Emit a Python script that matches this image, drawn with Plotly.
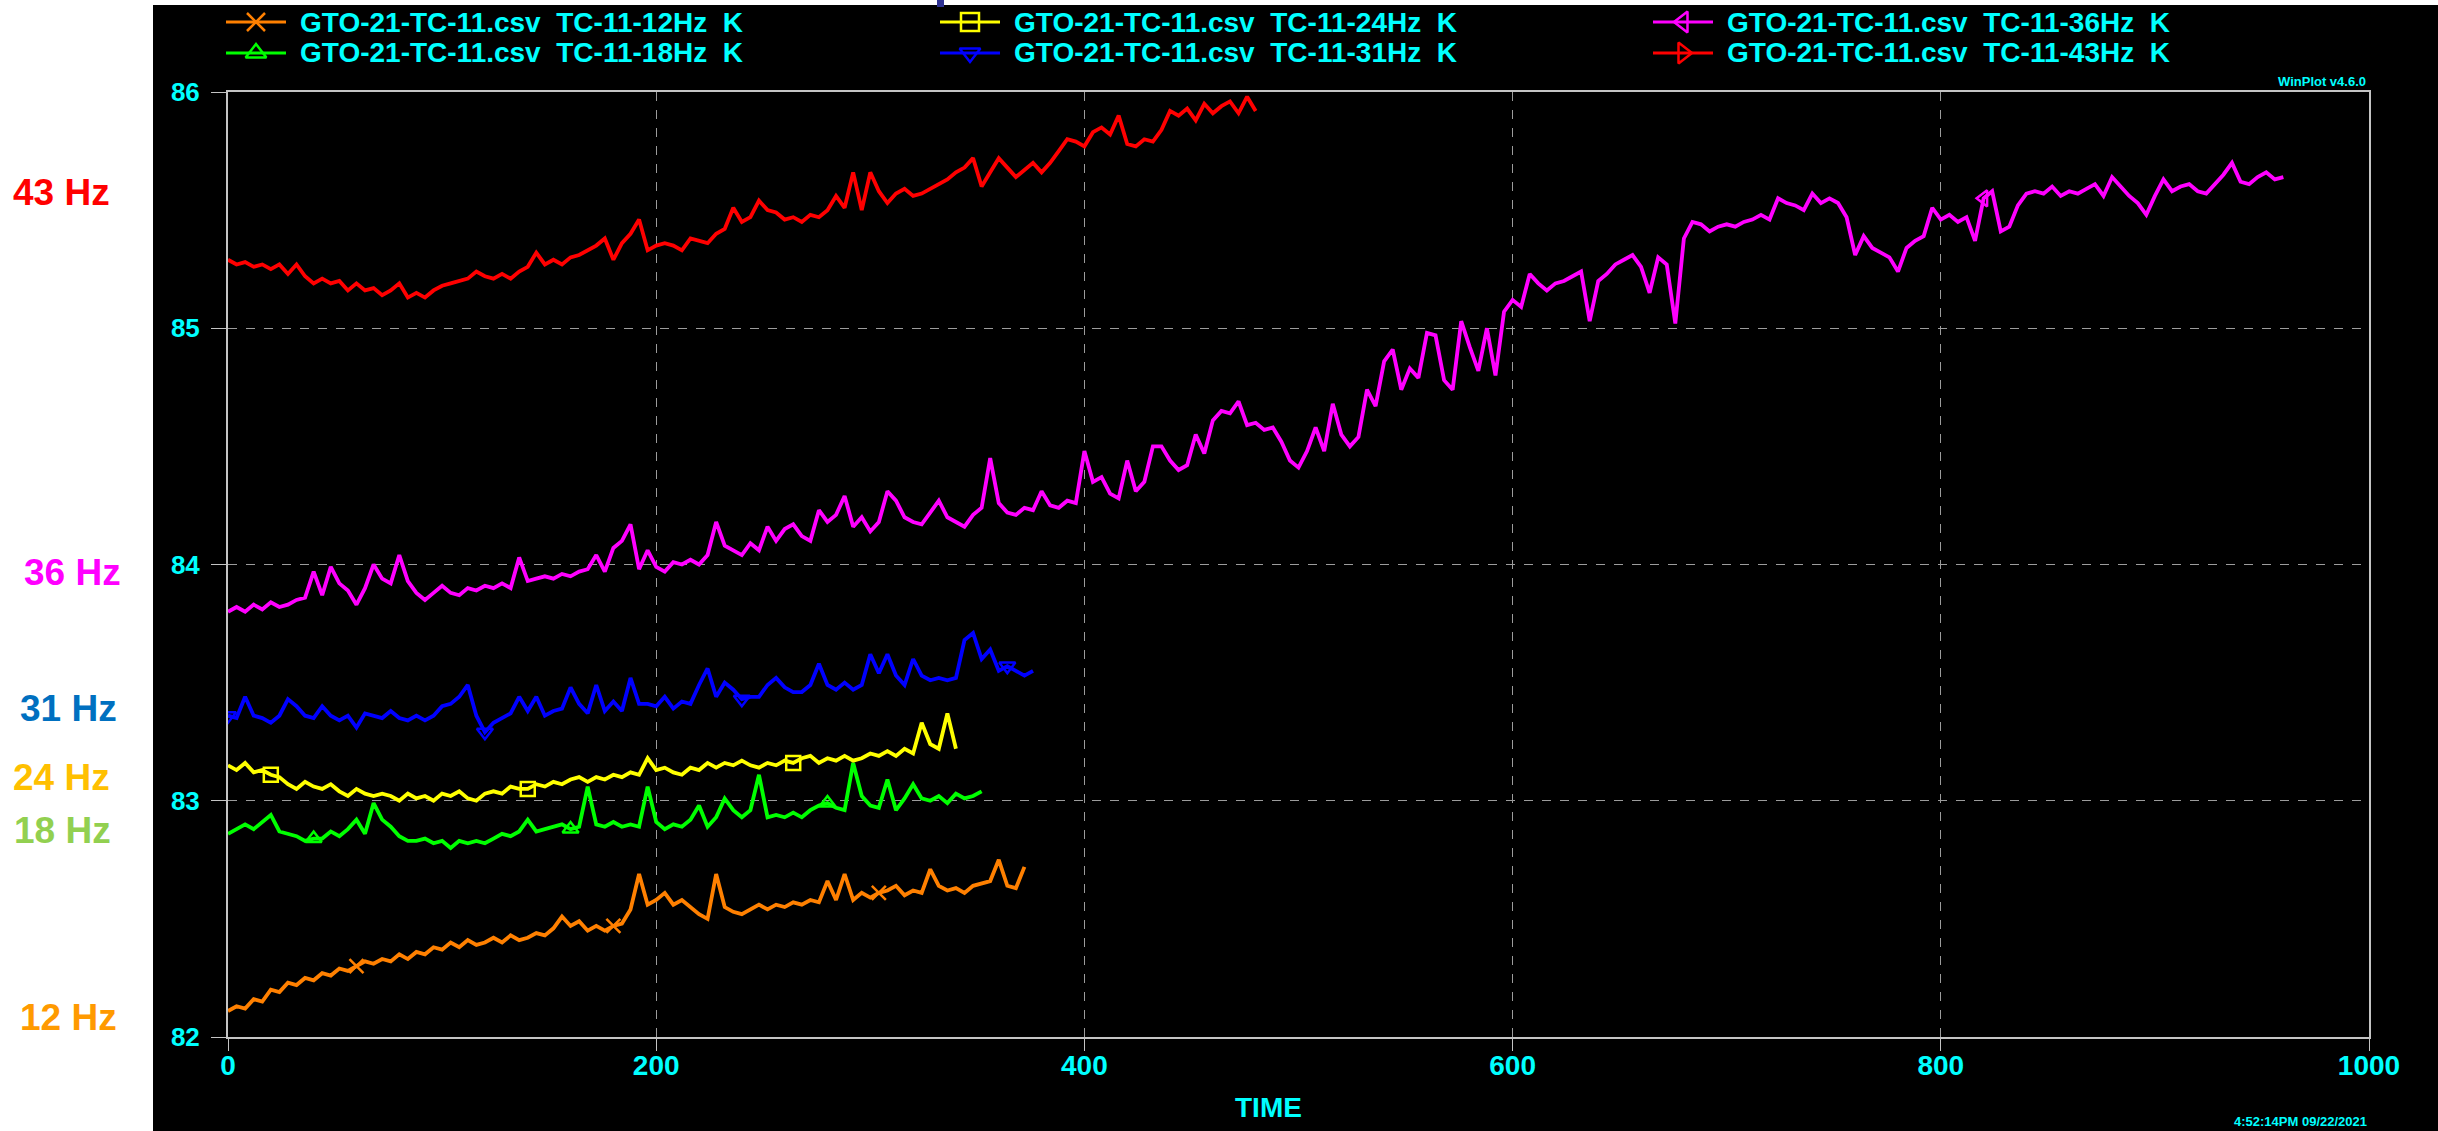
import numpy as np
import plotly.graph_objects as go

W, H = 2438, 1131
STEP = 4  # sample spacing along TIME

# ---------------------------------------------------------------- data
file_name = "GTO-21-TC-11.csv"
unit = "K"
time_ticks = [0, 200, 400, 600, 800, 1000]
temp_ticks = [82, 83, 84, 85, 86]

tc_12hz = [
    82.11, 82.13, 82.12, 82.16, 82.15, 82.20, 82.19, 82.23, 82.22, 82.25,
    82.24, 82.27, 82.26, 82.29, 82.28, 82.30, 82.32, 82.31, 82.33, 82.32,
    82.35, 82.33, 82.36, 82.35, 82.38, 82.37, 82.40, 82.38, 82.41, 82.39,
    82.40, 82.42, 82.40, 82.43, 82.41, 82.42, 82.44, 82.43, 82.46, 82.51,
    82.47, 82.49, 82.45, 82.47, 82.45, 82.47, 82.48, 82.54, 82.69, 82.56,
    82.58, 82.61, 82.56, 82.58, 82.55, 82.52, 82.50, 82.69, 82.55, 82.53,
    82.52, 82.54, 82.56, 82.54, 82.56, 82.55, 82.57, 82.56, 82.58, 82.57,
    82.66, 82.58, 82.69, 82.58, 82.61, 82.59, 82.61, 82.62, 82.64, 82.60,
    82.62, 82.61, 82.71, 82.64, 82.62, 82.63, 82.61, 82.64, 82.65, 82.66,
    82.75, 82.64, 82.63, 82.72,
]
tc_18hz = [
    82.86, 82.88, 82.90, 82.88, 82.91, 82.94, 82.87, 82.86, 82.85, 82.83,
    82.84, 82.84, 82.87, 82.85, 82.88, 82.92, 82.86, 82.99, 82.92, 82.89,
    82.85, 82.83, 82.83, 82.84, 82.82, 82.83, 82.80, 82.83, 82.82, 82.83,
    82.82, 82.84, 82.86, 82.85, 82.87, 82.92, 82.87, 82.88, 82.89, 82.90,
    82.88, 82.89, 83.06, 82.90, 82.89, 82.91, 82.89, 82.90, 82.89, 83.06,
    82.91, 82.88, 82.90, 82.89, 82.92, 82.98, 82.89, 82.93, 83.01, 82.96,
    82.93, 82.96, 83.11, 82.93, 82.94, 82.93, 82.95, 82.93, 82.96, 82.98,
    82.99, 82.97, 82.96, 83.16, 83.02, 82.98, 82.97, 83.09, 82.96, 83.01,
    83.07, 83.01, 83.00, 83.02, 82.99, 83.03, 83.01, 83.02, 83.04,
]
tc_24hz = [
    83.15, 83.13, 83.16, 83.12, 83.13, 83.11, 83.10, 83.07, 83.05, 83.08,
    83.06, 83.05, 83.07, 83.04, 83.02, 83.05, 83.03, 83.02, 83.03, 83.02,
    83.00, 83.03, 83.01, 83.02, 83.00, 83.03, 83.02, 83.04, 83.01, 83.00,
    83.03, 83.04, 83.03, 83.06, 83.05, 83.05, 83.07, 83.06, 83.08, 83.07,
    83.09, 83.10, 83.08, 83.10, 83.09, 83.11, 83.10, 83.12, 83.11, 83.18,
    83.13, 83.14, 83.12, 83.11, 83.14, 83.13, 83.16, 83.14, 83.16, 83.15,
    83.17, 83.15, 83.14, 83.16, 83.15, 83.17, 83.16, 83.18, 83.19, 83.16,
    83.18, 83.17, 83.19, 83.17, 83.18, 83.20, 83.19, 83.21, 83.19, 83.22,
    83.20, 83.33, 83.24, 83.22, 83.37, 83.22,
]
tc_31hz = [
    83.36, 83.35, 83.44, 83.36, 83.35, 83.33, 83.36, 83.43, 83.40, 83.36,
    83.35, 83.40, 83.36, 83.34, 83.36, 83.31, 83.37, 83.36, 83.35, 83.38,
    83.35, 83.34, 83.36, 83.34, 83.36, 83.40, 83.41, 83.44, 83.49, 83.36,
    83.29, 83.33, 83.35, 83.37, 83.44, 83.38, 83.44, 83.36, 83.38, 83.39,
    83.48, 83.41, 83.37, 83.49, 83.38, 83.42, 83.38, 83.52, 83.41, 83.41,
    83.40, 83.44, 83.39, 83.42, 83.41, 83.49, 83.56, 83.44, 83.50, 83.47,
    83.43, 83.44, 83.44, 83.49, 83.52, 83.48, 83.46, 83.46, 83.49, 83.58,
    83.49, 83.47, 83.50, 83.47, 83.49, 83.62, 83.54, 83.62, 83.53, 83.49,
    83.60, 83.53, 83.51, 83.52, 83.51, 83.52, 83.68, 83.71, 83.60, 83.64,
    83.55, 83.57, 83.55, 83.53, 83.55,
]
tc_36hz = [
    83.80, 83.82, 83.80, 83.83, 83.81, 83.84, 83.82, 83.83, 83.85, 83.86,
    83.97, 83.87, 83.99, 83.92, 83.89, 83.83, 83.90, 84.00, 83.94, 83.92,
    84.04, 83.93, 83.88, 83.85, 83.88, 83.91, 83.88, 83.87, 83.90, 83.89,
    83.91, 83.90, 83.92, 83.90, 84.03, 83.93, 83.94, 83.95, 83.94, 83.96,
    83.95, 83.97, 83.98, 84.04, 83.97, 84.07, 84.10, 84.17, 83.98, 84.06,
    83.99, 83.97, 84.01, 84.00, 84.02, 84.00, 84.04, 84.18, 84.08, 84.06,
    84.04, 84.09, 84.06, 84.16, 84.10, 84.15, 84.17, 84.12, 84.10, 84.23,
    84.18, 84.21, 84.29, 84.16, 84.20, 84.14, 84.18, 84.31, 84.27, 84.20,
    84.18, 84.17, 84.22, 84.27, 84.20, 84.18, 84.16, 84.21, 84.24, 84.45,
    84.26, 84.22, 84.21, 84.24, 84.23, 84.31, 84.25, 84.24, 84.27, 84.26,
    84.48, 84.35, 84.37, 84.30, 84.28, 84.44, 84.31, 84.35, 84.50, 84.50,
    84.44, 84.40, 84.42, 84.55, 84.47, 84.61, 84.65, 84.64, 84.69, 84.59,
    84.60, 84.57, 84.58, 84.52, 84.44, 84.41, 84.48, 84.58, 84.48, 84.68,
    84.55, 84.50, 84.54, 84.74, 84.67, 84.86, 84.91, 84.74, 84.83, 84.79,
    84.98, 84.97, 84.78, 84.74, 85.03, 84.92, 84.82, 85.00, 84.80, 85.07,
    85.12, 85.09, 85.23, 85.19, 85.16, 85.19, 85.20, 85.22, 85.24, 85.03,
    85.20, 85.23, 85.27, 85.29, 85.31, 85.26, 85.15, 85.30, 85.27, 85.02,
    85.38, 85.45, 85.44, 85.41, 85.43, 85.44, 85.43, 85.45, 85.46, 85.48,
    85.46, 85.55, 85.53, 85.52, 85.50, 85.57, 85.53, 85.55, 85.53, 85.47,
    85.31, 85.39, 85.34, 85.32, 85.30, 85.24, 85.34, 85.37, 85.39, 85.51,
    85.46, 85.48, 85.45, 85.47, 85.37, 85.55, 85.58, 85.41, 85.43, 85.52,
    85.57, 85.58, 85.57, 85.60, 85.56, 85.58, 85.57, 85.59, 85.61, 85.56,
    85.64, 85.60, 85.56, 85.53, 85.48, 85.56, 85.63, 85.58, 85.60, 85.61,
    85.58, 85.57, 85.61, 85.65, 85.70, 85.62, 85.61, 85.64, 85.66, 85.63,
    85.64,
]
tc_43hz = [
    85.29, 85.27, 85.28, 85.26, 85.27, 85.25, 85.27, 85.23, 85.27, 85.22,
    85.19, 85.21, 85.19, 85.20, 85.16, 85.19, 85.16, 85.17, 85.14, 85.16,
    85.19, 85.13, 85.15, 85.13, 85.16, 85.18, 85.19, 85.20, 85.21, 85.24,
    85.22, 85.21, 85.23, 85.21, 85.24, 85.26, 85.32, 85.27, 85.29, 85.27,
    85.30, 85.31, 85.33, 85.35, 85.38, 85.29, 85.36, 85.40, 85.46, 85.33,
    85.35, 85.36, 85.35, 85.33, 85.38, 85.37, 85.36, 85.40, 85.42, 85.51,
    85.45, 85.47, 85.54, 85.50, 85.49, 85.46, 85.47, 85.45, 85.48, 85.47,
    85.50, 85.56, 85.51, 85.66, 85.50, 85.66, 85.58, 85.53, 85.57, 85.59,
    85.56, 85.57, 85.59, 85.61, 85.63, 85.66, 85.68, 85.72, 85.60, 85.66,
    85.72, 85.68, 85.64, 85.67, 85.70, 85.66, 85.70, 85.75, 85.80, 85.79,
    85.77, 85.83, 85.85, 85.82, 85.90, 85.78, 85.77, 85.80, 85.79, 85.84,
    85.92, 85.90, 85.93, 85.88, 85.95, 85.91, 85.94, 85.96, 85.91, 85.98,
    85.92,
]

# sample indices where each channel carries its plot symbol
marks_12hz = [15, 45, 76]
marks_18hz = [10, 40, 70]
marks_24hz = [5, 35, 66]
marks_31hz = [0, 30, 60, 91]
marks_36hz = [205]
marks_43hz = []

channels = [
    ("TC-11-12Hz", tc_12hz, marks_12hz, "#ff8000", "x-thin-open", "12 Hz", "#ff9a00"),
    ("TC-11-18Hz", tc_18hz, marks_18hz, "#00ff00", "triangle-up-open", "18 Hz", "#92d050"),
    ("TC-11-24Hz", tc_24hz, marks_24hz, "#ffff00", "square-open", "24 Hz", "#ffc000"),
    ("TC-11-31Hz", tc_31hz, marks_31hz, "#0000ff", "triangle-down-open", "31 Hz", "#0070c0"),
    ("TC-11-36Hz", tc_36hz, marks_36hz, "#ff00ff", "triangle-left-open", "36 Hz", "#ff00ff"),
    ("TC-11-43Hz", tc_43hz, marks_43hz, "#ff0000", "triangle-right-open", "43 Hz", "#ff0000"),
]

# ---------------------------------------------------------------- layout helpers
FONT = "Liberation Sans, Arial, sans-serif"
CYAN = "#00ffff"
AXIS_GREY = "#c4c4c4"
GRID_GREY = "#9c9c9c"

PLOT_L, PLOT_R, PLOT_T, PLOT_B = 228, 2369, 92, 1037


def px(x):
    return x / W


def py(y):
    return 1 - y / H


fig = go.Figure()

for name, vals, marks, color, symbol, _, _ in channels:
    t = np.arange(len(vals)) * STEP
    v = np.asarray(vals)
    fig.add_trace(go.Scatter(
        x=t, y=v, mode="lines", name=name, showlegend=False,
        line=dict(color=color, width=3.8),
    ))
    if marks:
        fig.add_trace(go.Scatter(
            x=t[marks], y=v[marks], mode="markers", showlegend=False,
            marker=dict(symbol=symbol, size=14, color=color,
                        line=dict(color=color, width=2.5)),
        ))

# legend block: three columns, two rows (column-major)
legend_order = [0, 2, 4, 1, 3, 5]
legend_text_x = [298, 1012, 1725]
legend_row_y = [22, 53]
for slot, ch in enumerate(legend_order):
    name, _, _, color, symbol, _, _ = channels[ch]
    col, row = slot % 3, slot // 3
    tx, ty = legend_text_x[col], legend_row_y[row]
    fig.add_trace(go.Scatter(
        x=[tx - 72, tx - 12], y=[ty, ty], xaxis="x2", yaxis="y2",
        mode="lines", showlegend=False, line=dict(color=color, width=3),
    ))
    fig.add_trace(go.Scatter(
        x=[tx - 42], y=[ty], xaxis="x2", yaxis="y2", mode="markers",
        showlegend=False,
        marker=dict(symbol=symbol, size=18, color=color,
                    line=dict(color=color, width=2.5)),
    ))
    fig.add_annotation(
        x=px(tx), y=py(ty), xref="paper", yref="paper",
        xanchor="left", yanchor="middle", showarrow=False,
        text=f"{file_name}\u00a0\u00a0{name}\u00a0\u00a0{unit}",
        font=dict(family=FONT, size=28, color=CYAN, weight="bold"),
    )

# frequency labels in the white margin
side_label_y = {"12 Hz": 1017, "18 Hz": 830, "24 Hz": 777,
                "31 Hz": 708, "36 Hz": 572, "43 Hz": 193}
side_label_x = {"12 Hz": 68, "18 Hz": 62, "24 Hz": 61,
                "31 Hz": 68, "36 Hz": 72, "43 Hz": 61}
for _, _, _, _, _, label, lcolor in channels:
    fig.add_annotation(
        x=px(side_label_x[label]), y=py(side_label_y[label]),
        xref="paper", yref="paper", xanchor="center", yanchor="middle",
        showarrow=False, text=label,
        font=dict(family=FONT, size=37, color=lcolor, weight="bold"),
    )

fig.add_annotation(
    x=px(1268), y=py(1107), xref="paper", yref="paper",
    xanchor="center", yanchor="middle", showarrow=False, text="TIME",
    font=dict(family=FONT, size=28, color=CYAN, weight="bold"),
)
fig.add_annotation(
    x=px(2368), y=py(82), xref="paper", yref="paper",
    xanchor="right", yanchor="middle", showarrow=False, text="WinPlot v4.6.0",
    font=dict(family=FONT, size=13, color=CYAN, weight="bold"),
)
fig.add_annotation(
    x=px(2369), y=py(1121), xref="paper", yref="paper",
    xanchor="right", yanchor="middle", showarrow=False,
    text="4:52:14PM 09/22/2021",
    font=dict(family=FONT, size=13, color=CYAN, weight="bold"),
)

# dark window panel and the small tab at its top edge
fig.add_shape(type="rect", xref="paper", yref="paper", layer="below",
              x0=px(153), x1=1, y0=0, y1=py(5),
              fillcolor="#000000", line=dict(width=0))
fig.add_shape(type="rect", xref="paper", yref="paper", layer="below",
              x0=px(937), x1=px(944), y0=py(7), y1=1,
              fillcolor="#2e3192", line=dict(width=0))

fig.update_layout(
    width=W, height=H,
    margin=dict(l=0, r=0, t=0, b=0, pad=0, autoexpand=False),
    paper_bgcolor="#ffffff",
    plot_bgcolor="rgba(0,0,0,0)",
    showlegend=False,
    xaxis=dict(
        domain=[px(PLOT_L), px(PLOT_R)], range=[0, 1000], automargin=False,
        tickvals=time_ticks, ticktext=[str(v) for v in time_ticks],
        showgrid=True, gridcolor=GRID_GREY, gridwidth=1, griddash="dash",
        zeroline=False, showline=True, mirror=True,
        linecolor=AXIS_GREY, linewidth=2,
        ticks="outside", ticklen=12, tickwidth=1, tickcolor=AXIS_GREY,
        ticklabelstandoff=-10,
        tickfont=dict(family=FONT, size=28, color=CYAN, weight="bold"),
        fixedrange=True,
    ),
    yaxis=dict(
        domain=[py(PLOT_B), py(PLOT_T)], range=[82, 86], automargin=False,
        tickvals=temp_ticks, ticktext=[str(v) for v in temp_ticks],
        showgrid=True, gridcolor=GRID_GREY, gridwidth=1, griddash="dash",
        zeroline=False, showline=True, mirror=True,
        linecolor=AXIS_GREY, linewidth=2,
        ticks="outside", ticklen=15, tickwidth=1, tickcolor=AXIS_GREY,
        ticklabelstandoff=6,
        tickfont=dict(family=FONT, size=26, color=CYAN, weight="bold"),
        fixedrange=True,
    ),
    xaxis2=dict(domain=[0, 1], range=[0, W], visible=False, automargin=False,
                fixedrange=True, anchor="y2"),
    yaxis2=dict(domain=[0, 1], range=[H, 0], visible=False, automargin=False,
                fixedrange=True, anchor="x2"),
)

fig.write_html("out.html")
